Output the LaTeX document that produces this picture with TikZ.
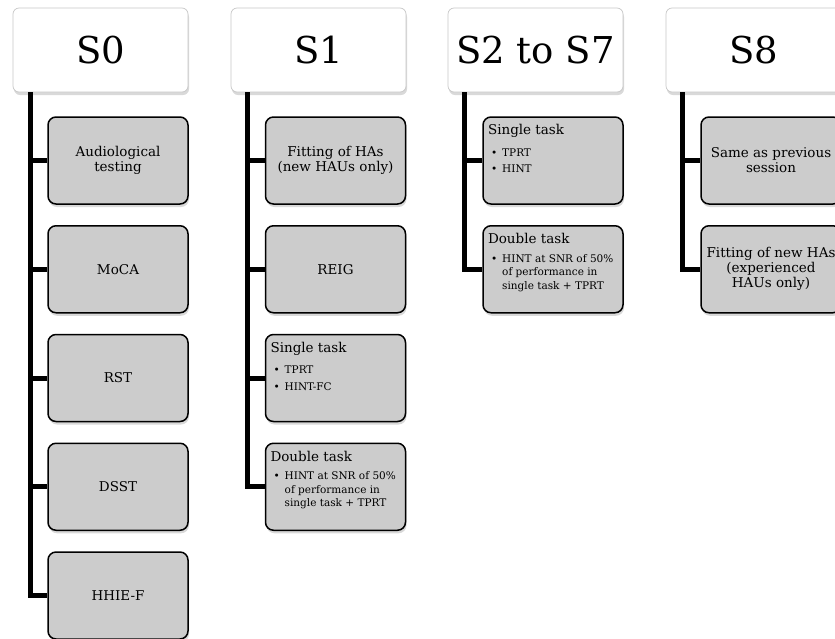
\documentclass[tikz,border=0pt]{standalone}
\usepackage{fontspec}
\setmainfont{DejaVu Serif}
\usetikzlibrary{shadows}
\begin{document}
\begin{tikzpicture}[x=1pt,y=-1pt,
  head/.style={draw=black!22, line width=0.7pt, fill=white, rounded corners=6pt,
    minimum width=175pt, minimum height=84pt, inner sep=0pt,
    font=\fontsize{37}{40}\selectfont,
    drop shadow={opacity=0.3, shadow xshift=1pt, shadow yshift=-3pt}},
  kid/.style={draw=black, line width=1.5pt, fill=black!20, rounded corners=8pt,
    minimum width=140pt, minimum height=87pt, inner sep=0pt, align=center,
    font=\fontsize{13.5}{15}\selectfont, text=black,
    drop shadow={opacity=0.3, shadow xshift=1pt, shadow yshift=-3pt}},
  kidlist/.style={kid, align=left},
  conn/.style={draw=black, line width=5pt}
]
\useasboundingbox (0,0) rectangle (835,638);
\newcommand{\toplist}[2]{\parbox[c][84pt][t]{140pt}{\leftskip=5pt\vspace*{6pt}\fontsize{13.5}{15}\selectfont #1\par\vspace{8pt}\fontsize{10.5}{13.5}\selectfont #2}}

% column S0
\node[head] (h0) at (100.5,50) {S0};
\node[kid] (c01) at (118,160.5) {Audiological\\testing};
\node[kid] (c02) at (118,269.25) {MoCA};
\node[kid] (c03) at (118,378) {RST};
\node[kid] (c04) at (118,486.75) {DSST};
\node[kid] (c05) at (118,595.5) {HHIE-F};
\foreach \k in {1,...,5}{\draw[conn] (h0.south west) ++(18,0) |- (c0\k.west);}

% column S1
\node[head] (h1) at (318.5,50) {S1};
\node[kid] (c11) at (335.5,160.5) {Fitting of HAs\\(new HAUs only)};
\node[kid] (c12) at (335.5,269.25) {REIG};
\node[kidlist] (c13) at (335.5,378) {\toplist{Single task}{\begin{tabular}{@{\hspace{3pt}}l@{\hspace{5pt}}l@{}}• & TPRT\\[3pt] • & HINT-FC\end{tabular}}};
\node[kidlist] (c14) at (335.5,486.75) {\toplist{Double task}{\begin{tabular}{@{\hspace{3pt}}l@{\hspace{5pt}}l@{}}• & HINT at SNR of 50\%\\ & of performance in\\ & single task + TPRT\end{tabular}}};
\foreach \k in {1,...,4}{\draw[conn] (h1.south west) ++(17,0) |- (c1\k.west);}

% column S2 to S7
\node[head] (h2) at (535.5,50) {S2 to S7};
\node[kidlist] (c21) at (553,160.5) {\toplist{Single task}{\begin{tabular}{@{\hspace{3pt}}l@{\hspace{5pt}}l@{}}• & TPRT\\[3pt] • & HINT\end{tabular}}};
\node[kidlist] (c22) at (553,269.25) {\toplist{Double task}{\begin{tabular}{@{\hspace{3pt}}l@{\hspace{5pt}}l@{}}• & HINT at SNR of 50\%\\ & of performance in\\ & single task + TPRT\end{tabular}}};
\foreach \k in {1,2}{\draw[conn] (h2.south west) ++(17,0) |- (c2\k.west);}

% column S8
\node[head] (h3) at (753.5,50) {S8};
\node[kid] (c31) at (771,160.5) {Same as previous\\session};
\node[kid] (c32) at (771,269.25) {Fitting of new HAs\\(experienced\\HAUs only)};
\foreach \k in {1,2}{\draw[conn] (h3.south west) ++(17,0) |- (c3\k.west);}
\end{tikzpicture}
\end{document}
